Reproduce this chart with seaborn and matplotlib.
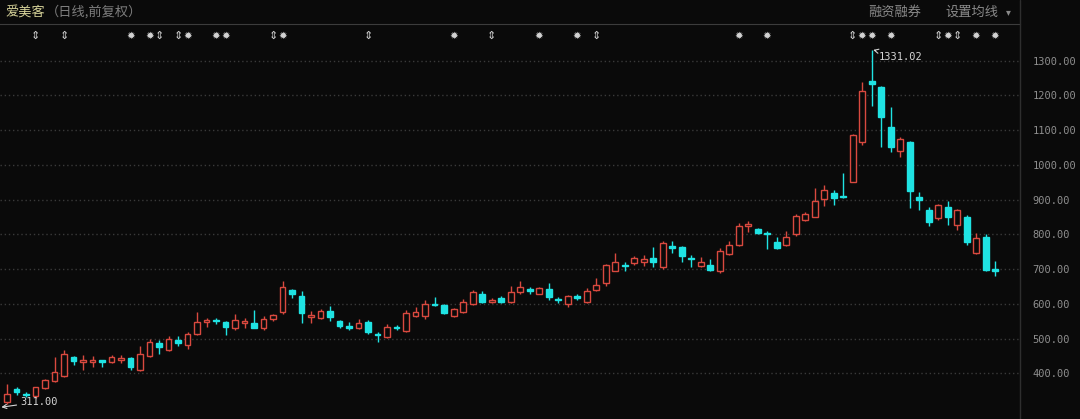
import numpy as np
import pandas as pd
import matplotlib
matplotlib.use("Agg")
import matplotlib.pyplot as plt
import matplotlib.transforms as mtransforms
import seaborn as sns

# ─────────────────────────────────────────
# Data — weekly-ish candles
# ─────────────────────────────────────────
opens = [317, 354, 342, 334, 357, 377, 392, 446, 432, 432,
         438, 432, 440, 444, 409, 449, 487, 467, 495, 481,
         515, 547, 553, 547, 530, 544, 544, 532, 556, 576,
         639, 622, 562, 559, 579, 550, 536, 530, 547, 515,
         504, 533, 521, 564, 564, 599, 596, 564, 576, 599,
         630, 605, 616, 605, 633, 644, 630, 644, 613, 599,
         622, 605, 639, 659, 696, 713, 717, 722, 731, 705,
         768, 763, 731, 708, 711, 694, 743, 771, 823, 817,
         803, 777, 771, 800, 843, 851, 903, 920, 912, 952,
         1067, 1243, 1225, 1110, 1041, 1067, 909, 871, 846, 880,
         828, 851, 748, 794, 700]
highs = [369, 360, 348, 362, 385, 446, 467, 449, 452, 450,
         440, 452, 452, 447, 478, 498, 495, 507, 507, 518,
         578, 561, 561, 550, 570, 561, 584, 564, 570, 665,
         642, 636, 579, 585, 593, 553, 547, 556, 553, 518,
         541, 539, 582, 590, 610, 619, 599, 587, 613, 639,
         636, 616, 622, 653, 665, 650, 650, 660, 619, 625,
         630, 645, 676, 714, 748, 720, 739, 740, 763, 780,
         780, 766, 740, 734, 728, 760, 780, 834, 840, 820,
         809, 794, 809, 860, 866, 935, 941, 929, 978, 1090,
         1240, 1331.02, 1228, 1168, 1081, 1070, 923, 880, 889, 895,
         872, 855, 805, 800, 723]
lows = [311, 337, 333, 330, 355, 375, 390, 423, 409, 420,
        418, 430, 430, 409, 406, 446, 455, 464, 478, 470,
        512, 535, 541, 512, 526, 530, 530, 526, 550, 570,
        616, 544, 544, 556, 550, 530, 524, 527, 515, 492,
        501, 525, 518, 562, 556, 593, 570, 562, 573, 596,
        602, 602, 602, 602, 628, 630, 628, 610, 602, 590,
        610, 602, 636, 653, 694, 694, 711, 708, 705, 700,
        748, 722, 705, 705, 694, 690, 740, 766, 806, 800,
        757, 757, 768, 797, 840, 849, 883, 886, 906, 950,
        1056, 1170, 1053, 1036, 1024, 877, 871, 823, 843, 828,
        814, 771, 745, 694, 680]
closes = [340, 346, 337, 360, 380, 403, 455, 435, 438, 440,
          433, 446, 444, 418, 455, 490, 475, 498, 487, 513,
          547, 553, 550, 535, 553, 550, 532, 558, 567, 650,
          630, 573, 567, 579, 562, 536, 532, 544, 518, 512,
          533, 530, 573, 576, 599, 596, 573, 585, 605, 633,
          607, 610, 607, 633, 650, 636, 647, 619, 610, 622,
          616, 636, 656, 711, 720, 710, 731, 728, 722, 774,
          762, 737, 728, 720, 697, 751, 771, 823, 829, 803,
          800, 760, 794, 854, 860, 895, 929, 906, 909, 1087,
          1214, 1234, 1139, 1053, 1076, 926, 900, 837, 886, 849,
          869, 777, 791, 697, 694]

# event markers above the candles (candle index, symbol)
star_idx = [13, 15, 19, 22, 23, 29, 47, 56, 60, 77, 80, 90, 91, 93, 99, 102, 104]
arrow_idx = [3, 6, 16, 18, 28, 38, 51, 62, 89, 98, 100]

y_ticks = [400, 500, 600, 700, 800, 900, 1000, 1100, 1200, 1300]

df = pd.DataFrame({'open': opens, 'high': highs, 'low': lows, 'close': closes})
df['i'] = np.arange(len(df))
df['up'] = df['close'] >= df['open']

BG = '#0a0a0a'
RED = '#d9493f'
CYAN = '#1fe3e3'
GRID = '#3a3a3a'
TXT = '#8e8e8e'

sns.set_style("dark", rc={
    'axes.facecolor': BG,
    'figure.facecolor': BG,
    'axes.edgecolor': '#3c3c3c',
    'grid.color': GRID,
})
plt.rcParams['font.family'] = ['Noto Sans CJK SC', 'DejaVu Sans']

fig = plt.figure(figsize=(10.8, 4.19), dpi=100)
ax = fig.add_axes([0, 0, 1020 / 1080, (419 - 24) / 419])

# ─────────────────────────────────────────
# Candles
# ─────────────────────────────────────────
colors = np.where(df['up'], RED, CYAN)
ax.vlines(df['i'], df['low'], df['high'], colors=colors, linewidth=1, zorder=2)

body_lo = np.minimum(df['open'], df['close'])
body_h = np.maximum((df['close'] - df['open']).abs(), 2.5)
face = np.where(df['up'], BG, CYAN)
ax.bar(df['i'], body_h, bottom=body_lo, width=0.6,
       color=face, edgecolor=colors, linewidth=1, zorder=3)

# ─────────────────────────────────────────
# Axes styling
# ─────────────────────────────────────────
ax.set_xlim(-0.74, 106.6)
ax.set_ylim(269, 1405.6)
ax.set_xticks([])
ax.yaxis.tick_right()
ax.set_yticks(y_ticks)
ax.set_yticklabels([f"{v:.2f}" for v in y_ticks], family='DejaVu Sans Mono',
                   fontsize=7.5, color=TXT)
ax.tick_params(axis='y', length=0, pad=9)
ax.grid(False)
for v in y_ticks:
    ax.axhline(v, color=GRID, linewidth=1, linestyle=(0, (1, 2)), zorder=1)
for s in ['left', 'bottom']:
    ax.spines[s].set_visible(False)
ax.spines['top'].set_color('#3c3c3c')
ax.spines['right'].set_color('#2e2e2e')

# markers row
trans = mtransforms.blended_transform_factory(ax.transData, ax.transAxes)
for i in star_idx:
    ax.text(i, 0.970, '✹', transform=trans, ha='center', va='center',
            fontsize=7.5, color='#d2d2d2', family='DejaVu Sans')
for i in arrow_idx:
    ax.text(i, 0.970, '⇕', transform=trans, ha='center', va='center',
            fontsize=8, color='#d2d2d2', family='DejaVu Sans')

# high / low annotations
hi_i = int(np.argmax(highs))
lo_i = int(np.argmin(lows))
ax.annotate(f"{highs[hi_i]:.2f}", xy=(hi_i + 0.15, highs[hi_i]),
            xytext=(hi_i + 0.75, highs[hi_i] - 20), ha='left', va='center',
            fontsize=7.5, color='#d6d6d6', family='DejaVu Sans Mono',
            arrowprops=dict(arrowstyle='->', color='#d6d6d6', lw=0.8,
                            shrinkA=0, shrinkB=0))
ax.annotate(f"{lows[lo_i]:.2f}", xy=(lo_i - 0.6, lows[lo_i] - 8),
            xytext=(lo_i + 1.35, lows[lo_i] + 7), ha='left', va='center',
            fontsize=7.5, color='#d6d6d6', family='DejaVu Sans Mono',
            arrowprops=dict(arrowstyle='->', color='#d6d6d6', lw=0.8,
                            shrinkA=0, shrinkB=0))

# header texts
fig.text(5 / 1080, 1 - 12 / 419, '爱美客', fontsize=9.5, color='#d8d49a',
         ha='left', va='center')
fig.text(46 / 1080, 1 - 12 / 419, '（日线,前复权）', fontsize=9.5, color='#7e7e7e',
         ha='left', va='center')
fig.text(868 / 1080, 1 - 12 / 419, '融资融券', fontsize=9.5, color='#8a8a8a',
         ha='left', va='center')
fig.text(945 / 1080, 1 - 12 / 419, '设置均线', fontsize=9.5, color='#8a8a8a',
         ha='left', va='center')
fig.text(1006 / 1080, 1 - 12 / 419, '▾', fontsize=7, color='#8a8a8a',
         ha='left', va='center', family='DejaVu Sans')
fig.add_artist(plt.Line2D([1020 / 1080, 1020 / 1080], [0, 1],
                          transform=fig.transFigure, color='#2e2e2e', linewidth=1))

fig.savefig('out.png', dpi=100, facecolor=BG)
